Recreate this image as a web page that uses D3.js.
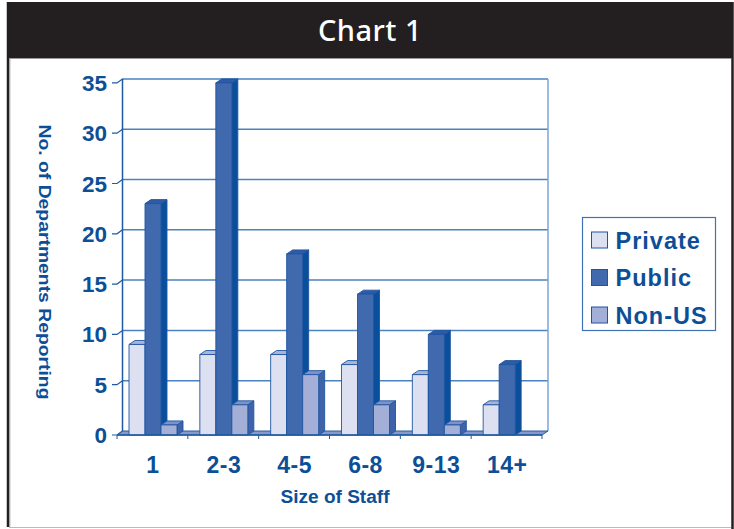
<!DOCTYPE html>
<html><head><meta charset="utf-8">
<script src="https://cdn.jsdelivr.net/npm/d3@7"></script>
<style>body{margin:0;background:#fff}svg{display:block}</style>
</head><body>
<svg id="c" width="734" height="529"></svg>
<script>
const categories = ["1","2-3","4-5","6-8","9-13","14+"];
const seriesNames = ["Private","Public","Non-US"];
const privateVals = [9, 8, 8, 7, 6, 3];
const publicVals = [23, 35, 18, 14, 10, 7];
const nonUsVals = [1, 3, 6, 3, 1, 0];
const yTicks = [0,5,10,15,20,25,30,35];
const title = "Chart 1";
const yTitle = "No. of Departments Reporting";
const xTitle = "Size of Staff";

const seriesVals = [privateVals, publicVals, nonUsVals];
const colors = [
  {front:"#dde0f0", top:"#a9b4da", side:"#8c9dcc"},
  {front:"#4169ae", top:"#2e5ba6", side:"#0a4f9c"},
  {front:"#a4afd7", top:"#7f92c7", side:"#3f63ab"}
];
const txt = "#0d4f97";
const svg = d3.select("#c");
const font = "Liberation Sans, Arial, sans-serif";

// frame
svg.append("rect").attr("x",7).attr("y",2).attr("width",726).attr("height",56).attr("fill","#231f20");
svg.append("line").attr("x1",8).attr("x2",8).attr("y1",2).attr("y2",527).attr("stroke","#231f20").attr("stroke-width",2.5);
svg.append("line").attr("x1",9.8).attr("x2",9.8).attr("y1",58).attr("y2",527).attr("stroke","#999").attr("stroke-width",1);
svg.append("line").attr("x1",732.5).attr("x2",732.5).attr("y1",2).attr("y2",529).attr("stroke","#231f20").attr("stroke-width",2.5);
svg.append("line").attr("x1",9).attr("x2",731).attr("y1",58.5).attr("y2",58.5).attr("stroke","#999").attr("stroke-width",1);
svg.append("line").attr("x1",9).attr("x2",731).attr("y1",527.5).attr("y2",527.5).attr("stroke","#bbb").attr("stroke-width",1.2);
svg.append("text").attr("x",370).attr("y",41).attr("text-anchor","middle")
  .attr("fill","#fff").attr("font-family","'Noto Sans', sans-serif").attr("font-size",29).attr("font-weight",500)
  .attr("letter-spacing",0.5)
  .text(title);

const dx = 6, dy = 4;
const x0 = 117, x1 = 542;
const x = d3.scaleBand().domain(categories).range([x0, x1]);
const y = d3.scaleLinear().domain([0,35]).range([435, 82.9]);
const xs = d3.scaleBand().domain(seriesNames).range([12, 60]);

const g = svg.append("g");
// back wall gridlines
g.selectAll(".grid").data(yTicks.filter(d=>d>0)).join("line")
  .attr("x1",x0+5).attr("x2",x1+dx).attr("y1",d=>y(d)-dy).attr("y2",d=>y(d)-dy)
  .attr("stroke","#4b82c0").attr("stroke-width",1.5);
// wall edges
g.append("line").attr("x1",x0+5.5).attr("x2",x0+5.5).attr("y1",y(35)-dy).attr("y2",y(0)-dy).attr("stroke","#1f5aa3").attr("stroke-width",1.5);
g.append("line").attr("x1",x1+dx).attr("x2",x1+dx).attr("y1",y(35)-dy).attr("y2",y(0)-dy).attr("stroke","#7ea6d3").attr("stroke-width",1.5);
// y ticks
g.selectAll(".yt").data(yTicks).join("path")
  .attr("d",d=>`M${x0-5},${y(d)}L${x0},${y(d)}L${x0+5.5},${y(d)-dy}`)
  .attr("fill","none").attr("stroke","#1f5aa3").attr("stroke-width",1.2);
g.selectAll(".yl").data(yTicks).join("text")
  .attr("x",107).attr("y",d=>y(d)+8).attr("text-anchor","end")
  .attr("fill",txt).attr("font-family",font).attr("font-weight","bold").attr("font-size",22.5)
  .text(d=>d);
// floor
g.append("path").attr("d",`M${x0},${y(0)}L${x0+dx},${y(0)-dy}L${x1+dx},${y(0)-dy}L${x1},${y(0)}Z`)
  .attr("fill","#8798c9").attr("stroke","#2a5aa2").attr("stroke-width",1);
// x ticks
g.selectAll(".xt").data(categories.concat(["_end"])).join("line")
  .attr("x1",(d,i)=>x0+i*x.bandwidth()).attr("x2",(d,i)=>x0+i*x.bandwidth())
  .attr("y1",y(0)).attr("y2",y(0)+4).attr("stroke","#1f5aa3").attr("stroke-width",1);

// bars
const bars = [];
categories.forEach((c,ci)=>{
  seriesNames.forEach((s,si)=>{
    bars.push({c, s, si, v: seriesVals[si][ci]});
  });
});
const bg = g.append("g");
bars.filter(b=>b.v>0).forEach(b=>{
  const bx = x(b.c) + xs(b.s), w = xs.bandwidth();
  const yt = y(b.v), yb = y(0);
  const col = colors[b.si];
  const gg = bg.append("g").attr("stroke","#1f55a0").attr("stroke-width",0.9).attr("stroke-linejoin","round");
  gg.append("path").attr("d",`M${bx+w},${yt}L${bx+w+dx},${yt-dy}L${bx+w+dx},${yb-dy}L${bx+w},${yb}Z`).attr("fill",col.side);
  gg.append("path").attr("d",`M${bx},${yt}L${bx+dx},${yt-dy}L${bx+w+dx},${yt-dy}L${bx+w},${yt}Z`).attr("fill",col.top);
  gg.append("rect").attr("x",bx).attr("y",yt).attr("width",w).attr("height",yb-yt).attr("fill",col.front);
});
// front floor line
g.append("line").attr("x1",x0).attr("x2",x1).attr("y1",y(0)).attr("y2",y(0)).attr("stroke","#1f5aa3").attr("stroke-width",1.5);

// x labels
g.selectAll(".xl").data(categories).join("text")
  .attr("x",d=>x(d)+36).attr("y",473).attr("text-anchor","middle")
  .attr("fill",txt).attr("font-family",font).attr("font-weight","bold").attr("font-size",23)
  .attr("letter-spacing",0.5)
  .text(d=>d);
svg.append("text").attr("x",335).attr("y",503).attr("text-anchor","middle")
  .attr("fill",txt).attr("font-family",font).attr("font-weight","bold").attr("font-size",18)
  .attr("textLength",109).attr("lengthAdjust","spacingAndGlyphs")
  .text(xTitle);
svg.append("text").attr("transform","translate(39,262) rotate(90)").attr("text-anchor","middle")
  .attr("fill",txt).attr("font-family",font).attr("font-weight","bold").attr("font-size",16.5)
  .attr("textLength",275).attr("lengthAdjust","spacingAndGlyphs")
  .text(yTitle);

// legend
const lg = svg.append("g");
lg.append("rect").attr("x",582.5).attr("y",217.5).attr("width",133).attr("height",113)
  .attr("fill","#fff").attr("stroke","#3f73b3").attr("stroke-width",1.2);
seriesNames.forEach((s,i)=>{
  const yy = 232 + i*37.5;
  lg.append("rect").attr("x",591.5).attr("y",yy).attr("width",16).attr("height",16)
    .attr("fill",colors[i].front).attr("stroke","#1f55a0").attr("stroke-width",1);
  lg.append("text").attr("x",615.5).attr("y",yy+16.5).attr("fill",txt)
    .attr("font-family",font).attr("font-weight","bold").attr("font-size",23.5)
    .attr("letter-spacing",1).text(s);
});
</script>
</body></html>
